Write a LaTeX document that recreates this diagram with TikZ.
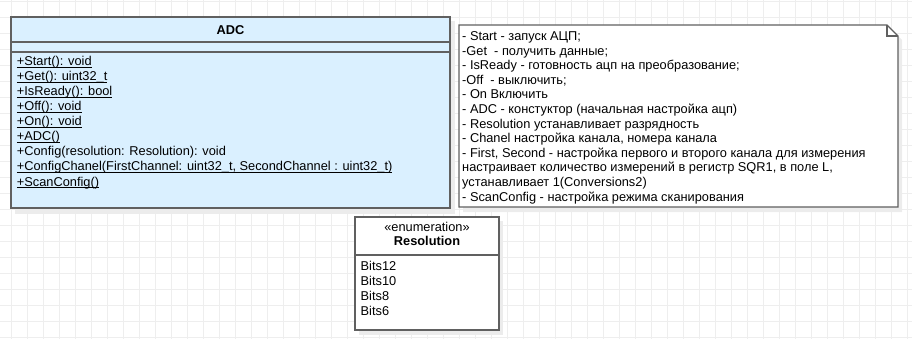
\documentclass[tikz,border=0pt]{standalone}
\usepackage{fontspec}
\setmainfont{Liberation Sans}

\definecolor{adcblue}{RGB}{218,240,255}
\definecolor{umlline}{RGB}{96,96,96}
\definecolor{gridgray}{RGB}{238,238,238}
\definecolor{shadowgray}{RGB}{236,236,236}

% underline for static members, sitting just under the baseline
\newcommand\umlstatic[1]{\setbox0\hbox{#1}\rlap{\rule[-1.9pt]{\wd0}{0.8pt}}\box0}

\tikzset{
  member/.style={anchor=base west, inner sep=0pt, font=\fontsize{12.8}{15}\selectfont},
  title/.style={anchor=base, inner sep=0pt, font=\fontsize{12.8}{15}\selectfont\bfseries},
  umlbox/.style={draw=umlline, line width=1.2pt},
}

\begin{document}
\begin{tikzpicture}[x=1pt,y=-1pt]
  \useasboundingbox (0,0) rectangle (912,339);
  % background grid
  \foreach \gx in {0,...,56}
    \draw[gridgray, line width=0.8pt] (11.7+16*\gx,0) -- (11.7+16*\gx,339);
  \foreach \gy in {0,...,21}
    \draw[gridgray, line width=0.8pt] (0,1.3+16*\gy) -- (912,1.3+16*\gy);

  % class ADC
  \fill[shadowgray] (15,21) rectangle (455,214);
  \draw[umlbox, fill=adcblue] (11,17) rectangle (450,208);
  \draw[umlbox] (11,42) -- (450,42);
  \draw[umlbox] (11,52) -- (450,52);
  \node[title] (adc) at (230.5,34.3) {ADC};
  \node[member] (start)  at (16.7,66)  {\umlstatic{+Start(): void}};
  \node[member] (get)    at (16.7,81)  {\umlstatic{+Get(): uint32\_t}};
  \node[member] (ready)  at (16.7,96)  {\umlstatic{+IsReady(): bool}};
  \node[member] (off)    at (16.7,111) {\umlstatic{+Off(): void}};
  \node[member] (on)     at (16.7,126) {\umlstatic{+On(): void}};
  \node[member] (ctor)   at (16.7,141) {\umlstatic{+ADC()}};
  \node[member] (config) at (16.7,156) {+Config(resolution: Resolution): void};
  \node[member] (chanel) at (16.7,171) {\umlstatic{+ConfigChanel(FirstChannel: uint32\_t, SecondChannel : uint32\_t)}};
  \node[member] (scan)   at (16.7,186) {\umlstatic{+ScanConfig()}};

  % note with folded corner
  \fill[shadowgray] (463,29) -- (891,29) -- (902,40) -- (902,212) -- (463,212) -- cycle;
  \draw[umlbox, fill=white, line join=miter] (459,25) -- (887,25) -- (898,36) -- (898,207) -- (459,207) -- cycle;
  \draw[umlbox, line join=miter] (887,25) -- (887,36) -- (898,36);
  \foreach \line [count=\i from 0] in {%
    - Start - запуск АЦП;,
    -Get \ - получить данные;,
    - IsReady - готовность ацп на преобразование;,
    -Off \ - выключить;,
    - On Включить,
    - ADC - констуктор (начальная настройка ацп),
    - Resolution устанавливает разрядность,
    - Chanel настройка канала{,} номера канала,
    - First{,} Second - настройка первого и второго канала для измерения,
    настраивает количество измерений в регистр SQR1{,} в поле L{,},
    устанавливает 1(Conversions2),
    - ScanConfig - настройка режима сканирования}
    \node[member] (note\i) at (462,40.5+14.6*\i) {\line};

  % enumeration Resolution
  \fill[shadowgray] (359,221) rectangle (503,335);
  \draw[umlbox, fill=white] (355,217) rectangle (499,330);
  \draw[umlbox] (355,255) -- (499,255);
  \node[anchor=base, inner sep=0pt, font=\fontsize{12.8}{15}\selectfont] (stereo) at (427,231.7) {«enumeration»};
  \node[title] (res) at (427,245.7) {Resolution};
  \node[member] (b12) at (360.5,270) {Bits12};
  \node[member] (b10) at (360.5,285) {Bits10};
  \node[member] (b8)  at (360.5,300) {Bits8};
  \node[member] (b6)  at (360.5,315) {Bits6};
\end{tikzpicture}
\end{document}
